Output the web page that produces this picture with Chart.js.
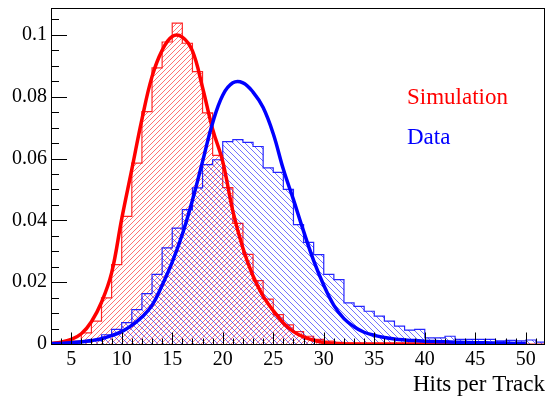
<!DOCTYPE html>
<html>
<head>
<meta charset="utf-8">
<script src="https://cdn.jsdelivr.net/npm/chart.js@4.4.1/dist/chart.umd.min.js"></script>
<style>
  html, body { margin: 0; padding: 0; background: #fff; }
</style>
</head>
<body>
<canvas id="hitsChart" width="545" height="399"></canvas>
<script>
// Hits per track, one bin per hit, first bin starts at 3
const binLow = 3;
const simulationCounts = [
  0.0002, 0.0004, 0.0009, 0.0036, 0.0074, 0.0149, 0.0257, 0.0413, 0.0585, 0.0752,
  0.0893, 0.0977, 0.1038, 0.0973, 0.0881, 0.0748, 0.0610, 0.0506, 0.0390, 0.0290,
  0.0205, 0.0145, 0.0095, 0.0062, 0.0040, 0.0025, 0.0015, 0.0009, 0.0005, 0.0003,
  0.0002, 0.0001, 0, 0, 0, 0, 0, 0, 0, 0,
  0, 0, 0, 0, 0, 0, 0, 0, 0
];
const dataCounts = [
  0.0001, 0.0002, 0.0003, 0.0006, 0.0011, 0.0030, 0.0047, 0.0069, 0.0111, 0.0163,
  0.0225, 0.0311, 0.0375, 0.0435, 0.0505, 0.0580, 0.0596, 0.0655, 0.0661, 0.0652,
  0.0639, 0.0570, 0.0555, 0.0500, 0.0386, 0.0329, 0.0289, 0.0225, 0.0208, 0.0133,
  0.0122, 0.0106, 0.0090, 0.0074, 0.0058, 0.0045, 0.0047, 0.0020, 0.0020, 0.0025,
  0.0015, 0.0015, 0.0015, 0.0015, 0.0010, 0.0012, 0.0010, 0.0013, 0.0006
];

// fitted curves, sampled at whole hit counts
const fitX = [
  3, 4, 5, 6, 7, 8, 9, 10, 11, 12, 13, 14, 15, 16, 17, 18, 19, 20, 21, 22, 23, 24, 25, 26,
  27, 28, 29, 30, 31, 32, 33, 34, 35, 36, 37, 38, 39, 40, 41, 42, 43, 44, 45, 46, 47, 48, 49, 50
];
const simulationFit = [
  0.0002, 0.0006, 0.0015, 0.0033, 0.0072, 0.0135, 0.0230, 0.0405, 0.0565, 0.0727, 0.0865, 0.0950,
  0.0995, 0.0993, 0.0948, 0.0830, 0.0695, 0.0590, 0.0430, 0.0310, 0.0220, 0.0155, 0.0108, 0.0068,
  0.0040, 0.0023, 0.0012, 0.0005, 0.0002, 0, 0, 0, 0, 0, 0, 0,
  0, 0, 0, 0, 0, 0, 0, 0, 0, 0, 0, 0
];
const dataFit = [
  0.0001, 0.0002, 0.0004, 0.0007, 0.0011, 0.0017, 0.0027, 0.0040, 0.0060, 0.0087, 0.0125, 0.0190,
  0.0265, 0.0355, 0.0465, 0.0590, 0.0715, 0.0805, 0.0845, 0.0845, 0.0815, 0.0765, 0.0680, 0.0565,
  0.0467, 0.0365, 0.0270, 0.0190, 0.0125, 0.0082, 0.0056, 0.0038, 0.0028, 0.0021, 0.0016, 0.0013,
  0.0011, 0.0009, 0.0008, 0.0007, 0.0006, 0.0005, 0.0004, 0.0004, 0.0003, 0.0003, 0.0002, 0.0002
];

const xTickLabels = [5, 10, 15, 20, 25, 30, 35, 40, 45, 50];
const yTickLabels = [0, 0.02, 0.04, 0.06, 0.08, 0.1];

const serif = '"Liberation Serif", "DejaVu Serif", serif';

// one point per bin lower edge, plus the upper edge of the last bin
function histPoints(values) {
  const pts = values.map((v, i) => ({ x: binLow + i, y: v }));
  pts.push({ x: binLow + values.length, y: values[values.length - 1] });
  return pts;
}

function hatch(color, size, rising) {
  const c = document.createElement('canvas');
  c.width = c.height = size;
  const g = c.getContext('2d');
  g.strokeStyle = color;
  g.lineWidth = 1;
  g.beginPath();
  if (rising) {
    g.moveTo(-1, size + 1); g.lineTo(size + 1, -1);
    g.moveTo(-1, 1); g.lineTo(1, -1);
    g.moveTo(size - 1, size + 1); g.lineTo(size + 1, size - 1);
  } else {
    g.moveTo(-1, -1); g.lineTo(size + 1, size + 1);
    g.moveTo(size - 1, -1); g.lineTo(size + 1, 1);
    g.moveTo(-1, size - 1); g.lineTo(1, size + 1);
  }
  g.stroke();
  return g.createPattern(c, 'repeat');
}

// frame, inward ticks and the two labels in the upper right
const frameAndLabels = {
  id: 'frameAndLabels',
  afterDraw(chart) {
    const { ctx, chartArea: a, scales: { x, y } } = chart;
    ctx.save();
    ctx.strokeStyle = '#000';
    ctx.lineWidth = 1;
    ctx.strokeRect(a.left + 0.5, a.top + 0.5, a.right - a.left - 1, a.bottom - a.top);

    ctx.beginPath();
    for (let v = 3; v <= 51; v++) {
      const px = Math.round(x.getPixelForValue(v)) + 0.5;
      const len = v % 5 === 0 ? 11.5 : 5.5;
      ctx.moveTo(px, a.bottom);
      ctx.lineTo(px, a.bottom - len);
    }
    for (let k = 0; k <= 21; k++) {
      const py = Math.round(y.getPixelForValue(k * 0.005)) + 0.5;
      const len = k % 4 === 0 ? 16 : 8;
      ctx.moveTo(a.left, py);
      ctx.lineTo(a.left + len, py);
    }
    ctx.stroke();

    ctx.font = '23px ' + serif;
    ctx.textBaseline = 'alphabetic';
    ctx.fillStyle = '#ff0000';
    ctx.fillText('Simulation', 407, 104);
    ctx.fillStyle = '#0000ff';
    ctx.fillText('Data', 407, 144);
    ctx.restore();
  }
};

const fitLine = (label, xs, ys, color, order) => ({
  label,
  data: xs.map((x, i) => ({ x, y: ys[i] })),
  borderColor: color,
  borderWidth: 3.5,
  pointRadius: 0,
  tension: 0.4,
  fill: false,
  order
});

const histogram = (label, values, line, pattern, order) => ({
  label,
  data: histPoints(values),
  stepped: 'before',
  borderColor: line,
  borderWidth: 1.2,
  pointRadius: 0,
  backgroundColor: pattern,
  fill: 'origin',
  order
});

new Chart(document.getElementById('hitsChart').getContext('2d'), {
  type: 'line',
  data: {
    datasets: [
      fitLine('Data fit', fitX, dataFit, '#0000ff', 0),
      fitLine('Simulation fit', fitX, simulationFit, '#ff0000', 1),
      histogram('Data', dataCounts, 'rgba(0, 0, 255, 0.85)', hatch('rgba(0, 0, 255, 0.55)', 6, false), 2),
      histogram('Simulation', simulationCounts, 'rgba(255, 0, 0, 0.85)', hatch('rgba(255, 0, 0, 0.55)', 5, true), 3)
    ]
  },
  options: {
    responsive: false,
    animation: false,
    devicePixelRatio: 1,
    layout: { padding: { top: 8, right: 0, left: 0, bottom: 0 } },
    plugins: { legend: { display: false }, tooltip: { enabled: false } },
    scales: {
      x: {
        type: 'linear',
        min: 3,
        max: 51.9,
        grid: { display: false, drawTicks: false },
        border: { display: false },
        ticks: { font: { family: serif, size: 20 }, color: '#000', padding: 4, maxRotation: 0, autoSkip: false },
        afterBuildTicks: s => { s.ticks = xTickLabels.map(v => ({ value: v })); },
        afterFit: s => { s.height = 55; s.paddingLeft = 0; s.paddingRight = 0; },
        title: {
          display: true,
          text: 'Hits per Track',
          align: 'end',
          color: '#000',
          font: { family: serif, size: 23 },
          padding: { top: 0, bottom: 0 }
        }
      },
      y: {
        type: 'linear',
        min: 0,
        max: 0.1087,
        grid: { display: false, drawTicks: false },
        border: { display: false },
        ticks: { font: { family: serif, size: 20 }, color: '#000', padding: 4, callback: v => String(v) },
        afterBuildTicks: s => { s.ticks = yTickLabels.map(v => ({ value: v })); },
        afterFit: s => { s.width = 51; s.paddingTop = 0; s.paddingBottom = 0; }
      }
    }
  },
  plugins: [frameAndLabels]
});
</script>
</body>
</html>
